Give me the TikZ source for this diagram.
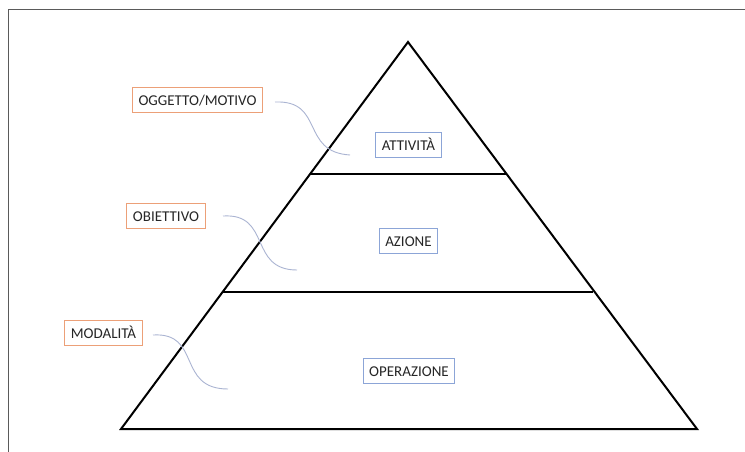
\documentclass[tikz,border=0pt]{standalone}
\usepackage{fontspec}
\setmainfont{Carlito}
\definecolor{orangeb}{RGB}{236,160,120}
\definecolor{blueb}{RGB}{140,165,215}
\definecolor{curvec}{RGB}{170,180,210}
\definecolor{framec}{RGB}{90,90,90}
\tikzset{
  lab/.style={draw=#1, line width=1pt, fill=white, font=\fontsize{15}{17}\selectfont, text=black!85, inner xsep=6pt, minimum height=25pt, text height=10.5pt, text depth=0pt},
  curv/.style={draw=curvec, line width=0.9pt},
  tri/.style={draw=black, line width=2pt, line join=miter}
}
\begin{document}
\begin{tikzpicture}[x=1pt,y=-1pt]
\useasboundingbox (0,0) rectangle (745,452);
\fill[white] (0,0) rectangle (745,452);
\draw[framec, line width=1pt] (8,452) -- (8,10) -- (745,10);
% pyramid
\coordinate (apex) at (408,42);
\coordinate (bl) at (121,429);
\coordinate (br) at (697,429);
\coordinate (l1) at (310,174);
\coordinate (r1) at (506,174);
\coordinate (l2) at (223,292);
\coordinate (r2) at (593,292);
\draw[tri] (apex) -- (br) -- (bl) -- cycle;
\draw[tri] (l1) -- (r1);
\draw[tri] (l2) -- (r2);
% level labels
\node[lab=blueb] (att) at (408.5,145) {ATTIVITÀ};
\node[lab=blueb] (azi) at (408.5,241) {AZIONE};
\node[lab=blueb] (ope) at (409,371) {OPERAZIONE};
% side labels
\node[lab=orangeb] (ogg) at (197.5,100.5) {OGGETTO/MOTIVO};
\node[lab=orangeb] (obi) at (166,216) {OBIETTIVO};
\node[lab=orangeb] (mod) at (103.5,333) {MODALITÀ};
% curves
\coordinate (c1s) at (275,102);
\coordinate (c1e) at (350,155);
\coordinate (c2s) at (223,216);
\coordinate (c2e) at (297,270);
\coordinate (c3s) at (153,335);
\coordinate (c3e) at (228,389);
\draw[curv] (c1s) .. controls (325,100) and (300,152) .. (c1e);
\draw[curv] (c2s) .. controls (272,213) and (248,270) .. (c2e);
\draw[curv] (c3s) .. controls (202,332) and (176,389) .. (c3e);
\end{tikzpicture}
\end{document}
